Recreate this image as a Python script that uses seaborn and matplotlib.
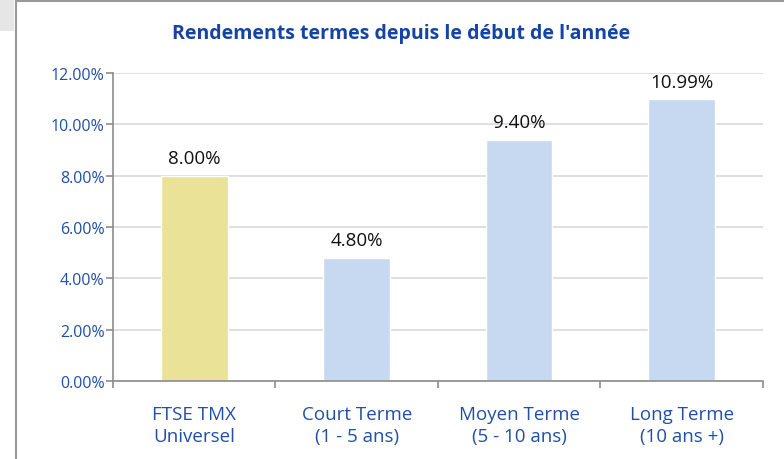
import matplotlib
matplotlib.use('Agg')
import matplotlib.pyplot as plt
import seaborn as sns
import pandas as pd
from matplotlib.lines import Line2D
from matplotlib.patches import Rectangle

# données
categories = ['FTSE TMX\nUniversel', 'Court Terme\n(1 - 5 ans)',
              'Moyen Terme\n(5 - 10 ans)', 'Long Terme\n(10 ans +)']
rendements = [8.00, 4.80, 9.40, 10.99]
couleurs = ['#EAE397', '#C6D9F0', '#C6D9F0', '#C6D9F0']
yticks = [0, 2, 4, 6, 8, 10, 12]

df = pd.DataFrame({'cat': categories, 'val': rendements})

sns.set_style('white')
plt.rcParams['font.family'] = ['Open Sans', 'DejaVu Sans']

bleu = '#1F4FA8'
gris = '#8C8C8C'

fig = plt.figure(figsize=(7.84, 4.6), dpi=100)
ax = fig.add_axes([0.1441, 0.1696, 0.829, 0.6696])

sns.barplot(data=df, x='cat', y='val', hue='cat', palette=couleurs,
            legend=False, width=0.41, saturation=1, ax=ax)

for c in ax.containers:
    ax.bar_label(c, fmt='%.2f%%', padding=6, fontsize=13.5, color='#111111')

ax.set_ylim(0, 12)
ax.set_xlim(-0.5, 3.5)
ax.set_yticks(yticks)
ax.set_yticklabels([f'{v:.2f}%' for v in yticks], color=bleu, fontsize=11.5)
ax.yaxis.grid(True, color='#D9D9D9', lw=1.2)
ax.set_axisbelow(True)

# x: graduations entre les catégories
ax.set_xticks([0, 1, 2, 3])
ax.set_xticklabels(categories, color=bleu, fontsize=13.5, linespacing=1.35)
ax.set_xticks([-0.5, 0.5, 1.5, 2.5, 3.5], minor=True)
ax.tick_params(axis='x', which='major', length=0, pad=17)
ax.tick_params(axis='x', which='minor', length=5, color=gris, width=1.2, direction='out', bottom=True)
ax.tick_params(axis='y', length=5, color=gris, width=1.2, direction='out', left=True, pad=1)

ax.set_xlabel('')
ax.set_ylabel('')
for s in ['top', 'right']:
    ax.spines[s].set_visible(False)
for s in ['left', 'bottom']:
    ax.spines[s].set_color(gris)
    ax.spines[s].set_linewidth(1.2)

fig.text(0.512, 0.925, "Rendements termes depuis le début de l'année",
         ha='center', va='center', fontsize=14, fontweight='bold', color='#1544A6')

# cadre du graphique
fig.add_artist(Rectangle((0, 0.93), 0.018, 0.07, transform=fig.transFigure,
                         color='#E6E6E6', lw=0))
fig.add_artist(Line2D([0.0205, 0.0205], [0, 0.996], transform=fig.transFigure,
                      color='#999999', lw=1.5))
fig.add_artist(Line2D([0.0205, 1], [0.996, 0.996], transform=fig.transFigure,
                      color='#999999', lw=1.5))

fig.savefig('out.png', dpi=100)
